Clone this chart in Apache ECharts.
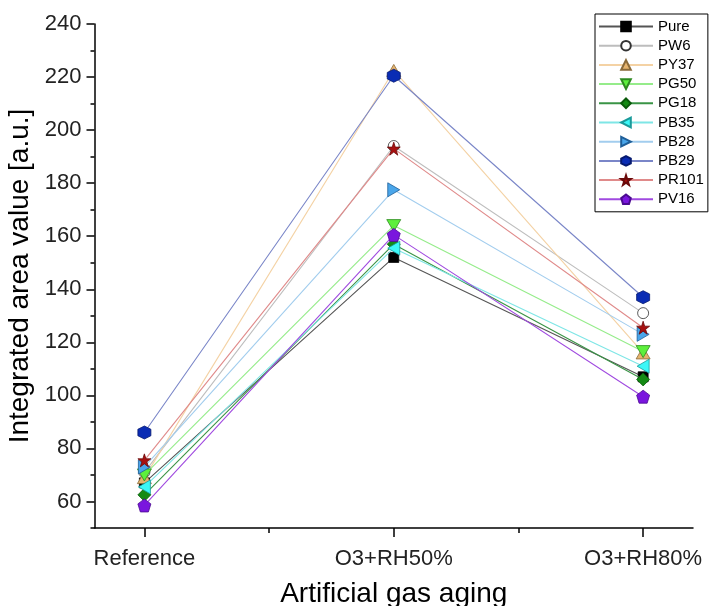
<!DOCTYPE html>
<html>
<head>
<meta charset="utf-8">
<script src="https://cdn.jsdelivr.net/npm/echarts@6/dist/echarts.min.js"></script>
<style>
html,body{margin:0;padding:0;background:#fff;}
#chart{width:718px;height:606px;}
</style>
</head>
<body>
<div id="chart"></div>
<script>
// ---- Data ----
const categories = ['Reference', 'O3+RH50%', 'O3+RH80%'];
const seriesNames = ['Pure', 'PW6', 'PY37', 'PG50', 'PG18', 'PB35', 'PB28', 'PB29', 'PR101', 'PV16'];
const pure  = [67, 152, 107];
const pw6   = [71, 194, 131];
const py37  = [69, 222.5, 116];
const pg50  = [70, 164, 116.5];
const pg18  = [62.5, 157, 106];
const pb35  = [65.5, 155.5, 111];
const pb28  = [73, 177.5, 123];
const pb29  = [86, 220.5, 137];
const pr101 = [75.5, 193, 125.5];
const pv16  = [58.5, 160.5, 99.5];
const yMajorTicks = [60, 80, 100, 120, 140, 160, 180, 200, 220, 240];
const yMinorTicks = [50, 70, 90, 110, 130, 150, 170, 190, 210, 230];
const xMajorTicks = [1, 2, 3];
const xMinorTicks = [1.5, 2.5];

const seriesValues = [pure, pw6, py37, pg50, pg18, pb35, pb28, pb29, pr101, pv16];

// ---- Styles ----
const star = 'path://M5,0 L6.18,3.62 L10,3.62 L6.91,5.86 L8.09,9.51 L5,7.27 L1.91,9.51 L3.09,5.86 L0,3.62 L3.82,3.62 Z';
const hexagon = 'path://M5,0 L9.33,2.5 L9.33,7.5 L5,10 L0.67,7.5 L0.67,2.5 Z';
const pentagon = 'path://M5,0 L10,3.8 L8.1,10 L1.9,10 L0,3.8 Z';
const triDown = 'path://M0,0 L10,0 L5,9 Z';
const triLeft = 'path://M9,0 L9,10 L0,5 Z';
const triRight = 'path://M0,0 L9,5 L0,10 Z';
const triUp = 'path://M5,0 L10,9 L0,9 Z';

const styles = [
  {symbol: 'rect', size: 10, fill: '#000000', stroke: '#000000', line: '#555555'},
  {symbol: 'circle', size: 11, fill: '#ffffff', stroke: '#333333', line: '#bdbdbd'},
  {symbol: triUp, size: [14, 12], fill: '#e6b46e', stroke: '#8a6a3a', line: '#f4d2a4'},
  {symbol: triDown, size: [14, 12], fill: '#5df03c', stroke: '#2e8a20', line: '#95ec8a'},
  {symbol: 'diamond', size: 13, fill: '#148a14', stroke: '#0a5a0a', line: '#3a9446'},
  {symbol: triLeft, size: [12, 14], fill: '#3cf7f7', stroke: '#1a9a9a', line: '#7ee6e6'},
  {symbol: triRight, size: [12, 14], fill: '#4aa6ea', stroke: '#1f5f99', line: '#a2cdee'},
  {symbol: hexagon, size: 13, fill: '#0a2cb4', stroke: '#061a70', line: '#7a86c8'},
  {symbol: star, size: 13, fill: '#a81010', stroke: '#6a0a0a', line: '#e08a8a'},
  {symbol: pentagon, size: 13, fill: '#7a16de', stroke: '#4a0a90', line: '#a04ae0'}
];

const series = seriesNames.map((name, i) => ({
  name: name,
  type: 'line',
  xAxisIndex: 0,
  yAxisIndex: 0,
  data: seriesValues[i].map((v, j) => [j + 1, v]),
  symbol: styles[i].symbol,
  symbolSize: styles[i].size,
  showAllSymbol: true,
  clip: false,
  lineStyle: {color: styles[i].line, width: 1.1},
  itemStyle: {color: styles[i].fill, borderColor: styles[i].stroke, borderWidth: 0.8},
  emphasis: {disabled: true},
  z: 2 + i
}));

const chart = echarts.init(document.getElementById('chart'), null, {renderer: 'canvas'});
const font = 'Liberation Sans, Arial, sans-serif';

chart.setOption({
  animation: false,
  backgroundColor: '#ffffff',
  grid: {left: 94.5, right: 25, top: 24, bottom: 78, outerBoundsMode: 'none', containLabel: false},
  legend: {
    orient: 'vertical',
    left: 595,
    top: 14,
    itemWidth: 54,
    itemHeight: 12,
    itemGap: 4.2,
    padding: [5, 4, 5, 3],
    borderColor: '#000',
    borderWidth: 1,
    backgroundColor: '#fff',
    textStyle: {fontFamily: font, fontSize: 15, color: '#000', padding: [0, 0, 0, 0]},
    data: seriesNames
  },
  xAxis: [
    {
      type: 'value', min: 0.8, max: 3.2,
      name: 'Artificial gas aging', nameLocation: 'middle', nameGap: 52,
      nameTextStyle: {fontFamily: font, fontSize: 28, color: '#000'},
      axisLine: {show: true, onZero: false, lineStyle: {color: '#000', width: 1.5}},
      axisTick: {show: true, inside: false, length: 9, customValues: xMajorTicks, lineStyle: {color: '#000', width: 1.5}},
      axisLabel: {show: true, customValues: xMajorTicks, margin: 20, fontFamily: font, fontSize: 22, color: '#222',
        formatter: v => categories[Math.round(v) - 1] || ''},
      splitLine: {show: false}
    },
    {
      type: 'value', min: 0.8, max: 3.2, position: 'bottom',
      axisLine: {show: false, onZero: false},
      axisTick: {show: true, length: 5, customValues: xMinorTicks, lineStyle: {color: '#000', width: 1.5}},
      axisLabel: {show: false},
      splitLine: {show: false}
    }
  ],
  yAxis: [
    {
      type: 'value', min: 50, max: 240,
      name: 'Integrated area value [a.u.]', nameLocation: 'middle', nameGap: 45,
      nameTextStyle: {fontFamily: font, fontSize: 28, color: '#000'},
      axisLine: {show: true, onZero: false, lineStyle: {color: '#000', width: 1.5}},
      axisTick: {show: true, inside: false, length: 8, customValues: yMajorTicks, lineStyle: {color: '#000', width: 1.5}},
      axisLabel: {show: true, customValues: yMajorTicks, margin: 13, fontFamily: font, fontSize: 22, color: '#222'},
      splitLine: {show: false}
    },
    {
      type: 'value', min: 50, max: 240, position: 'left',
      axisLine: {show: false, onZero: false},
      axisTick: {show: true, length: 4, customValues: yMinorTicks, lineStyle: {color: '#000', width: 1.5}},
      axisLabel: {show: false},
      splitLine: {show: false}
    }
  ],
  series: series
});
</script>
</body>
</html>
